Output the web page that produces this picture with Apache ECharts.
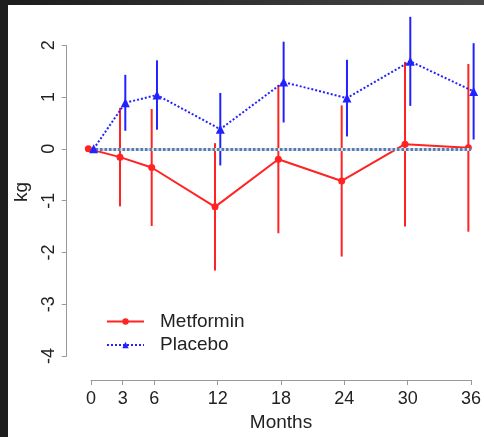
<!DOCTYPE html>
<html>
<head>
<meta charset="utf-8">
<script src="https://cdn.jsdelivr.net/npm/echarts@6/dist/echarts.min.js"></script>
<style>
html,body{margin:0;padding:0;background:#fff;}
#chart{width:484px;height:437px;}
</style>
</head>
<body>
<div id="chart"></div>
<script>
const months = [0, 3, 6, 12, 18, 24, 30, 36];
const metMean = [0, -0.16, -0.36, -1.12, -0.20, -0.62, 0.09, 0.02];
const metErr  = [0, 0.95, 1.13, 1.23, 1.43, 1.46, 1.59, 1.62];
const plaMean = [0, 0.89, 1.04, 0.38, 1.29, 0.98, 1.69, 1.11];
const plaErr  = [0, 0.54, 0.67, 0.70, 0.78, 0.74, 0.86, 0.93];
const xTicks = [0, 3, 6, 12, 18, 24, 30, 36];
const yTicks = [-4, -3, -2, -1, 0, 1, 2];
const seriesNames = ['Metformin', 'Placebo'];
const dodge = 0.25;

const RED = '#ff2323';
const BLUE = '#2222ff';
const FONT = 'Liberation Sans, Arial, sans-serif';

const metPts = months.map((m, i) => [m - dodge, metMean[i]]);
const plaPts = months.map((m, i) => [m + dodge, plaMean[i]]);
const metBars = months.map((m, i) => [m - dodge, metMean[i] - metErr[i], metMean[i] + metErr[i]]).filter((d, i) => metErr[i] > 0);
const plaBars = months.map((m, i) => [m + dodge, plaMean[i] - plaErr[i], plaMean[i] + plaErr[i]]).filter((d, i) => plaErr[i] > 0);

function barRenderer(color) {
  return function (params, api) {
    const p1 = api.coord([api.value(0), api.value(1)]);
    const p2 = api.coord([api.value(0), api.value(2)]);
    return {
      type: 'line',
      shape: { x1: p1[0], y1: p1[1], x2: p2[0], y2: p2[1] },
      style: { stroke: color, lineWidth: 2 }
    };
  };
}

const chart = echarts.init(document.getElementById('chart'), null, { renderer: 'canvas' });
chart.setOption({
  animation: false,
  backgroundColor: '#ffffff',
  textStyle: { fontFamily: FONT },
  grid: { left: 91, right: 11.7, top: 45.3, bottom: 73.7, containLabel: false },
  xAxis: {
    type: 'value', min: 0, max: 36, offset: 24,
    name: 'Months', nameLocation: 'middle', nameGap: 33,
    nameTextStyle: { fontSize: 19, color: '#222', fontFamily: FONT },
    axisLine: { show: true, onZero: false, lineStyle: { color: '#999', width: 1 } },
    axisTick: { show: true, length: 5, inside: false, customValues: xTicks, lineStyle: { color: '#999' } },
    axisLabel: { customValues: xTicks, fontSize: 18, color: '#222', margin: 10, fontFamily: FONT },
    splitLine: { show: false }
  },
  yAxis: {
    type: 'value', min: -4, max: 2, interval: 1, offset: 24.3,
    axisLine: { show: true, onZero: false, lineStyle: { color: '#999', width: 1 } },
    axisTick: { show: true, length: 5, customValues: yTicks, lineStyle: { color: '#999' } },
    axisLabel: { customValues: yTicks, rotate: 90, fontSize: 18, color: '#222', margin: 9, fontFamily: FONT },
    splitLine: { show: false }
  },
  legend: {
    data: seriesNames,
    orient: 'vertical', left: 101, top: 307,
    itemWidth: 37, itemHeight: 8, itemGap: 4.5,
    textStyle: { fontSize: 19, color: '#222', fontFamily: FONT, padding: [0, 0, 0, 11] }
  },
  graphic: [
    { type: 'rect', shape: { x: 0, y: 0, width: 484, height: 5 },
      style: { fill: new echarts.graphic.LinearGradient(0, 0, 1, 0, [{ offset: 0, color: '#1c1c1c' }, { offset: 1, color: '#474747' }]) }, z: 100 },
    { type: 'rect', shape: { x: 0, y: 0, width: 8, height: 437 }, style: { fill: '#1e1e1e' }, z: 100 },
    { type: 'text', x: 22, y: 192, rotation: Math.PI / 2,
      style: { text: 'kg', fontSize: 19, fill: '#222', fontFamily: FONT, align: 'center', verticalAlign: 'middle' } }
  ],
  series: [
    { type: 'line', name: 'ref-under', data: [], silent: true, z: 1,
      markLine: { silent: true, symbol: 'none', label: { show: false },
        lineStyle: { color: '#cfdcec', width: 3, type: 'solid' }, data: [{ yAxis: 0 }] } },
    { type: 'line', name: 'ref', data: [], silent: true, z: 1,
      markLine: { silent: true, symbol: 'none', label: { show: false },
        lineStyle: { color: '#5a7cad', width: 3, type: [2.5, 2] }, data: [{ yAxis: 0 }] } },
    { type: 'custom', name: 'Metformin bars', data: metBars, renderItem: barRenderer(RED),
      encode: { x: 0, y: [1, 2] }, z: 3, silent: true },
    { type: 'custom', name: 'Placebo bars', data: plaBars, renderItem: barRenderer(BLUE),
      encode: { x: 0, y: [1, 2] }, z: 3, silent: true },
    { type: 'line', name: 'Metformin', data: metPts, clip: false, z: 4,
      symbol: 'circle', symbolSize: 7, showAllSymbol: true,
      itemStyle: { color: RED }, lineStyle: { color: RED, width: 2, type: 'solid' } },
    { type: 'line', name: 'Placebo', data: plaPts, clip: false, z: 5,
      symbol: 'triangle', symbolSize: 9, showAllSymbol: true,
      itemStyle: { color: BLUE }, lineStyle: { color: BLUE, width: 2, type: [2, 2] } }
  ]
});
</script>
</body>
</html>
